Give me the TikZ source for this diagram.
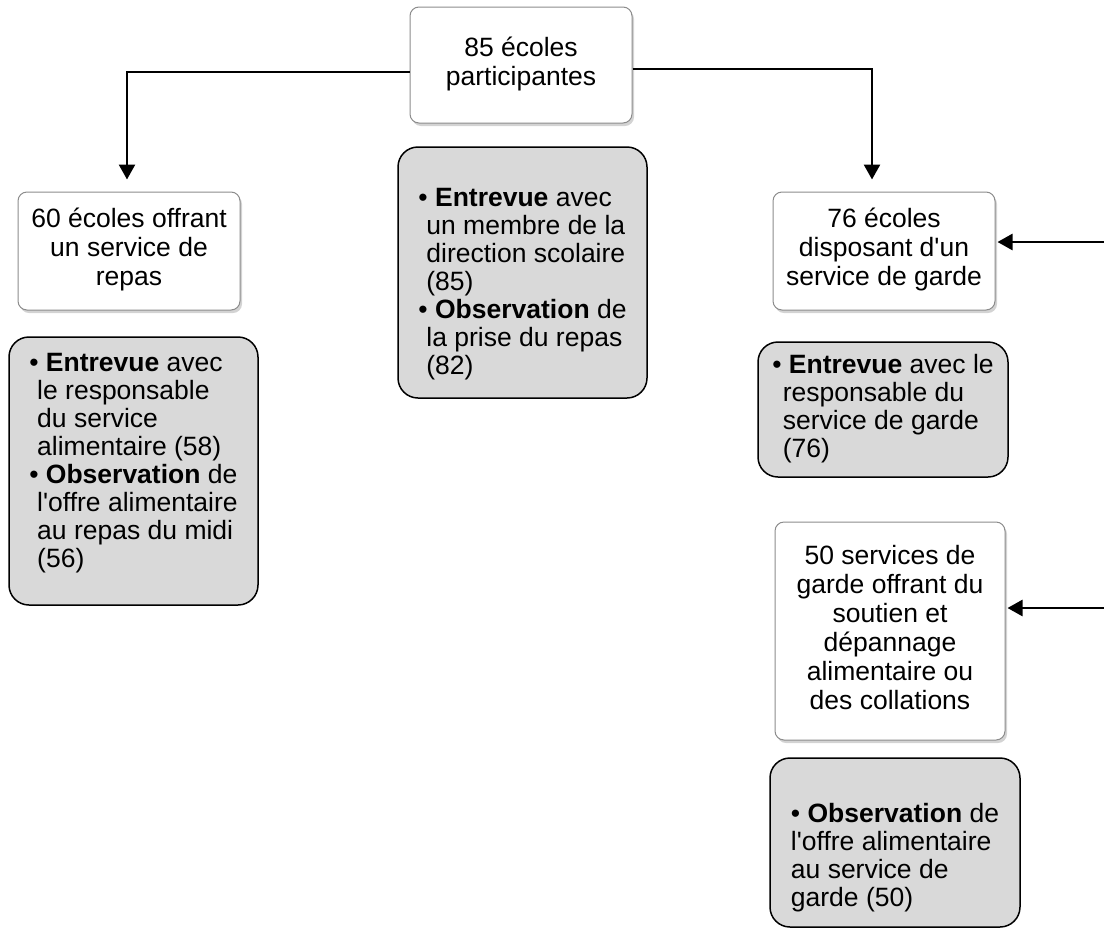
\documentclass[tikz,border=0pt]{standalone}
\usepackage{fontspec}
\setmainfont{Liberation Sans}
\usepackage{tikz}
\usetikzlibrary{arrows.meta,shadows}
\definecolor{boxgray}{HTML}{D9D9D9}
\definecolor{edgegray}{HTML}{8C8C8C}

\begin{document}
\begin{tikzpicture}[x=1pt, y=-1pt,
    whitebox/.style={rectangle, draw=edgegray, line width=1pt, fill=white, rounded corners=9pt,
      drop shadow={opacity=0.35, shadow xshift=2pt, shadow yshift=-3pt},
      font=\fontsize{26.5}{29}\selectfont, inner sep=0pt},
    graybox/.style={rectangle, draw, line width=1.5pt, fill=boxgray, rounded corners=20pt,
      font=\fontsize{26.5}{28}\selectfont, inner sep=0pt},
    link/.style={line width=2.6pt, -{Triangle[length=15pt, width=16pt]}}]
      \useasboundingbox (0,0) rectangle (1104,930);

      \node (top) [whitebox, minimum width=222pt, minimum height=116pt] at (521,65) {
        \begin{tabular}{c}
          85 écoles \\
          participantes
        \end{tabular}
      };
      \node (repas) [whitebox, minimum width=222pt, minimum height=118pt] at (129,251) {
        \begin{tabular}{c}
          60 écoles offrant \\
          un service de \\
          repas
        \end{tabular}
      };
      \node (garde) [whitebox, minimum width=222pt, minimum height=118pt] at (884,251) {
        \begin{tabular}{c}
          76 écoles \\
          disposant d\textquotesingle un \\
          service de garde
        \end{tabular}
      };
      \node (coll) [whitebox, minimum width=230pt, minimum height=218pt] at (890,631) {
        \begin{tabular}{c}
          50 services de \\
          garde offrant du \\
          soutien et \\
          dépannage \\
          alimentaire ou \\
          des collations
        \end{tabular}
      };

      \node (repasobs) [graybox, minimum width=249pt, minimum height=268pt] at (133.5,471) {
        \raisebox{7pt}[\height][\depth]{\begin{tabular}{@{}l@{}}
          \textbullet\ \textbf{Entrevue} avec \\
          \hspace*{.3em}le responsable \\
          \hspace*{.3em}du service \\
          \hspace*{.3em}alimentaire (58) \\
          \textbullet\ \textbf{Observation} de \\
          \hspace*{.3em}l\textquotesingle offre alimentaire \\
          \hspace*{.3em}au repas du midi \\
          \hspace*{.3em}(56)
        \end{tabular}}
      };
      \node (direction) [graybox, minimum width=249pt, minimum height=251pt] at (522.5,272.5) {
        \raisebox{-12pt}[\height][\depth]{\begin{tabular}{@{}l@{}}
          \textbullet\ \textbf{Entrevue} avec \\
          \hspace*{.3em}un membre de la \\
          \hspace*{.3em}direction scolaire \\
          \hspace*{.3em}(85) \\
          \textbullet\ \textbf{Observation} de \\
          \hspace*{.3em}la prise du repas \\
          \hspace*{.3em}(82)
        \end{tabular}}
      };
      \node (gardeobs) [graybox, minimum width=250pt, minimum height=135pt] at (883,409.5) {
        \begin{tabular}{@{}l@{}}
          \textbullet\ \textbf{Entrevue} avec le \\
          \hspace*{.4em}responsable du \\
          \hspace*{.4em}service de garde \\
          \hspace*{.4em}(76)
        \end{tabular}
      };
      \node (collobs) [graybox, minimum width=250pt, minimum height=169pt] at (895,842.5) {
        \raisebox{-16pt}[\height][\depth]{\begin{tabular}{@{}l@{}}
          \textbullet\ \textbf{Observation} de \\
          l\textquotesingle offre alimentaire \\
          au service de \\
          garde (50)
        \end{tabular}}
      };

      % arrows coming in from the right margin
      \coordinate (ing) at (1104,242);
      \coordinate (inc) at (1104,608);

      \draw[link, shorten >=12pt] ([yshift=-7pt]top.west) -| ([xshift=-2pt]repas.north);
      \draw[link, shorten >=12pt] ([yshift=-4pt]top.east) -| ([xshift=-12pt]garde.north);
      \draw[link, shorten >=2pt] (ing) -- (garde.east |- ing);
      \draw[link, shorten >=2pt] (inc) -- (coll.east |- inc);
    \end{tikzpicture}
\end{document}
